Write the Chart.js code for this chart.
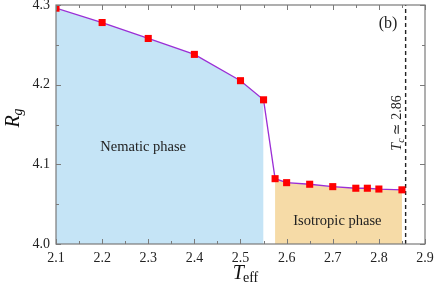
<!DOCTYPE html>
<html lang="en">
<head>
<meta charset="UTF-8">
<title>Rg vs Teff</title>
<script src="https://cdn.jsdelivr.net/npm/chart.js"></script>
<style>
    html, body { margin: 0; padding: 0; background: #fff; }
    #wrap { width: 436px; height: 284px; }
</style>
</head>
<body>
<div id="wrap"><canvas id="rgChart" width="436" height="284"></canvas></div>
<script>
    // data
    const temps = [2.1, 2.2, 2.3, 2.4, 2.5, 2.55, 2.575, 2.6, 2.65, 2.7, 2.75, 2.775, 2.8, 2.85];
    const rg = [4.296, 4.278, 4.258, 4.238, 4.205, 4.181, 4.082, 4.077, 4.075, 4.072, 4.070, 4.070, 4.069, 4.068];
    const nematicEnd = 6;   // first 6 points lie in the nematic phase
    const tc = 2.858;
    const xTicks = [2.1, 2.2, 2.3, 2.4, 2.5, 2.6, 2.7, 2.8, 2.9];
    const yTicks = [4.0, 4.1, 4.2, 4.3];

    const pts = temps.map((t, i) => ({ x: t, y: rg[i] }));
    const nematicPts = pts.slice(0, nematicEnd);
    const isoPts = pts.slice(nematicEnd);

    const serif = "'Liberation Serif', 'DejaVu Serif', serif";

    const decor = {
        id: 'decor',
        afterDraw(chart) {
            const ctx = chart.ctx;
            const xs = chart.scales.x, ys = chart.scales.y;
            const a = chart.chartArea;
            ctx.save();
            // frame
            ctx.strokeStyle = '#7a7a7a';
            ctx.lineWidth = 1.2;
            ctx.strokeRect(a.left, a.top, a.right - a.left, a.bottom - a.top);
            // inward ticks, major + minor
            ctx.lineWidth = 1;
            for (let v = 2.1; v <= 2.9001; v += 0.05) {
                const major = Math.abs(v * 10 - Math.round(v * 10)) < 0.01;
                const len = major ? 5 : 3;
                const px = Math.round(xs.getPixelForValue(v)) + 0.5;
                ctx.beginPath();
                ctx.moveTo(px, a.bottom); ctx.lineTo(px, a.bottom - len);
                ctx.moveTo(px, a.top); ctx.lineTo(px, a.top + len);
                ctx.stroke();
            }
            for (let v = 4.0; v <= 4.3001; v += 0.05) {
                const major = Math.abs(v * 10 - Math.round(v * 10)) < 0.01;
                const len = major ? 5 : 3;
                const py = Math.round(ys.getPixelForValue(v)) + 0.5;
                ctx.beginPath();
                ctx.moveTo(a.left, py); ctx.lineTo(a.left + len, py);
                ctx.moveTo(a.right, py); ctx.lineTo(a.right - len, py);
                ctx.stroke();
            }

            ctx.fillStyle = '#222';
            ctx.textAlign = 'center';
            ctx.textBaseline = 'middle';
            ctx.font = '14.5px ' + serif;
            ctx.fillText('Nematic phase', xs.getPixelForValue(2.289), ys.getPixelForValue(4.122));
            ctx.fillText('Isotropic phase', xs.getPixelForValue(2.710), ys.getPixelForValue(4.029));
            ctx.font = '16px ' + serif;
            ctx.fillText('(b)', xs.getPixelForValue(2.82), ys.getPixelForValue(4.276));

            // Tc label, rotated
            ctx.save();
            ctx.translate(xs.getPixelForValue(2.841), ys.getPixelForValue(4.152));
            ctx.rotate(-Math.PI / 2);
            ctx.textAlign = 'left';
            ctx.font = 'italic 14px ' + serif;
            const w1 = ctx.measureText('T').width;
            ctx.font = 'italic 10px ' + serif;
            const w2 = ctx.measureText('c').width;
            ctx.font = '14px ' + serif;
            const rest = ' \u2243 2.86';
            const w3 = ctx.measureText(rest).width;
            const x0 = -(w1 + w2 + w3) / 2;
            ctx.font = 'italic 14px ' + serif;
            ctx.fillText('T', x0, 0);
            ctx.font = 'italic 10px ' + serif;
            ctx.fillText('c', x0 + w1, 4);
            ctx.font = '14px ' + serif;
            ctx.fillText(rest, x0 + w1 + w2, 0);
            ctx.restore();

            // axis titles
            ctx.fillStyle = '#111';
            ctx.textAlign = 'left';
            ctx.textBaseline = 'alphabetic';
            ctx.font = 'italic 20px ' + serif;
            const tw = ctx.measureText('T').width;
            ctx.font = '14px ' + serif;
            const ew = ctx.measureText('eff').width;
            const tx = 246 - (tw + ew) / 2;
            ctx.font = 'italic 20px ' + serif;
            ctx.fillText('T', tx, 279);
            ctx.font = '14px ' + serif;
            ctx.fillText('eff', tx + tw - 1, 282);

            ctx.save();
            ctx.translate(19, 118);
            ctx.rotate(-Math.PI / 2);
            ctx.font = 'italic 20px ' + serif;
            const rw = ctx.measureText('R').width;
            ctx.font = 'italic 14px ' + serif;
            const gw = ctx.measureText('g').width;
            const rx = -(rw + gw) / 2;
            ctx.font = 'italic 20px ' + serif;
            ctx.fillText('R', rx, 0);
            ctx.font = 'italic 14px ' + serif;
            ctx.fillText('g', rx + rw, 3);
            ctx.restore();

            ctx.restore();
        }
    };

    new Chart(document.getElementById('rgChart'), {
        type: 'line',
        data: {
            datasets: [
                {
                    label: 'Rg',
                    data: pts,
                    borderColor: '#9b2fd6',
                    borderWidth: 1.3,
                    pointStyle: 'rect',
                    pointRadius: 5,
                    pointBackgroundColor: '#ff0000',
                    pointBorderWidth: 0,
                    fill: false,
                    order: 0
                },
                {
                    label: 'nematic',
                    data: nematicPts,
                    borderWidth: 0,
                    pointRadius: 0,
                    backgroundColor: '#c5e4f6',
                    fill: 'start',
                    order: 2
                },
                {
                    label: 'isotropic',
                    data: isoPts,
                    borderWidth: 0,
                    pointRadius: 0,
                    backgroundColor: '#f6dba7',
                    fill: 'start',
                    order: 2
                },
                {
                    label: 'Tc',
                    data: [{ x: tc, y: 4.0 }, { x: tc, y: 4.3 }],
                    borderColor: '#222',
                    borderWidth: 1.4,
                    borderDash: [4, 3],
                    pointRadius: 0,
                    fill: false,
                    order: 1
                }
            ]
        },
        options: {
            responsive: false,
            animation: false,
            events: [],
            layout: { padding: { left: 0, right: 11, top: 5, bottom: 0 } },
            plugins: { legend: { display: false }, tooltip: { enabled: false } },
            scales: {
                x: {
                    type: 'linear',
                    min: 2.1, max: 2.9,
                    afterBuildTicks: s => { s.ticks = xTicks.map(v => ({ value: v })); },
                    afterFit: s => { s.height = 40; s.paddingLeft = 0; s.paddingRight = 0; },
                    grid: { display: false, drawTicks: false },
                    border: { display: false },
                    ticks: {
                        color: '#222',
                        padding: 6,
                        maxRotation: 0,
                        font: { family: serif, size: 14 },
                        callback: v => v.toFixed(1)
                    }
                },
                y: {
                    type: 'linear',
                    min: 4.0, max: 4.3,
                    afterBuildTicks: s => { s.ticks = yTicks.map(v => ({ value: v })); },
                    afterFit: s => { s.width = 56; s.paddingTop = 0; s.paddingBottom = 0; },
                    grid: { display: false, drawTicks: false },
                    border: { display: false },
                    ticks: {
                        color: '#222',
                        padding: 6,
                        font: { family: serif, size: 14 },
                        callback: v => v.toFixed(1)
                    }
                }
            }
        },
        plugins: [decor]
    });
</script>
</body>
</html>
